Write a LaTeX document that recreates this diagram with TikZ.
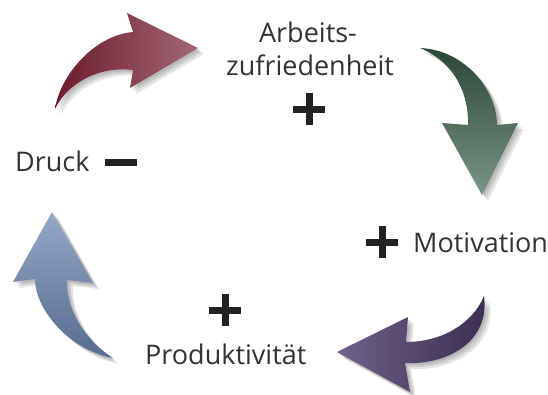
\documentclass[tikz,border=0pt]{standalone}
\usepackage{fontspec}
\setmainfont{Open Sans}
\definecolor{txt}{HTML}{333333}
\definecolor{plusc}{HTML}{222222}
\definecolor{redA}{HTML}{6B1A2B}
\definecolor{redB}{HTML}{A36876}
\definecolor{grnA}{HTML}{2C4638}
\definecolor{grnB}{HTML}{7A9486}
\definecolor{purA}{HTML}{3B2D4E}
\definecolor{purB}{HTML}{6F6288}
\definecolor{bluA}{HTML}{95A8C6}
\definecolor{bluB}{HTML}{586A8E}
\newcommand\pathRed{(55,109) .. controls (60,75) and (95,35) .. (133,32) -- (127,13) -- (198,48) -- (130,88) -- (133,70) .. controls (100,66) and (68,82) .. (55,109) -- cycle}
\newcommand\pathGrn{(420,48) .. controls (465,50) and (497,90) .. (497,125) -- (518,123) -- (482,195) -- (442,123) -- (468,125) .. controls (469,95) and (455,62) .. (420,48) -- cycle}
\newcommand\pathPur{(484,296) .. controls (490,340) and (450,365) .. (405,363) -- (410,392) -- (337,352) -- (408,317) -- (406,342) .. controls (440,342) and (472,325) .. (484,296) -- cycle}
\newcommand\pathBlu{(113,358) .. controls (70,350) and (35,310) .. (35,279) -- (13,282) -- (52,212) -- (93,283) -- (67,280) .. controls (66,310) and (85,340) .. (113,358) -- cycle}
\tikzset{
  lbl/.style={font=\fontsize{27}{30}\selectfont, text=txt, inner sep=0pt},
  pluss/.style={draw=plusc, line width=7pt},
  shad/.style={fill=black, opacity=0.10},
}
\begin{document}
\begin{tikzpicture}[x=1pt,y=-1pt]
\useasboundingbox (0,0) rectangle (548,394);
\fill[white] (0,0) rectangle (548,394);
% shadows
\foreach \s in {2,4,6}{
  \fill[shad, shift={(\s,\s)}] \pathRed;
  \fill[shad, shift={(\s,\s)}] \pathGrn;
  \fill[shad, shift={(\s,\s)}] \pathPur;
  \fill[shad, shift={(\s,\s)}] \pathBlu;
}
% arrows
\shade[left color=redA, right color=redB] \pathRed;
\shade[top color=grnA, bottom color=grnB] \pathGrn;
\shade[left color=purB, right color=purA] \pathPur;
\shade[top color=bluA, bottom color=bluB] \pathBlu;
% labels
\node[lbl, anchor=base] (arb1) at (308,42) {Arbeits-};
\node[lbl, anchor=base] (arb2) at (310,75) {zufriedenheit};
\node[lbl, anchor=base west] (dru) at (15,171) {Druck};
\node[lbl, anchor=base west] (mot) at (413,252) {Motivation};
\node[lbl, anchor=base west] (pro) at (145,364) {Produktivität};
% signs
\coordinate (p1) at (309,109);
\coordinate (p2) at (382,242);
\coordinate (p3) at (225,310);
\coordinate (m1) at (121,162);
\foreach \c in {p1,p2,p3}{
  \draw[pluss] ([xshift=-16pt]\c) -- ([xshift=16pt]\c);
  \draw[pluss] ([yshift=-16pt]\c) -- ([yshift=16pt]\c);
}
\draw[pluss] ([xshift=-16pt]m1) -- ([xshift=16pt]m1);
\end{tikzpicture}
\end{document}
